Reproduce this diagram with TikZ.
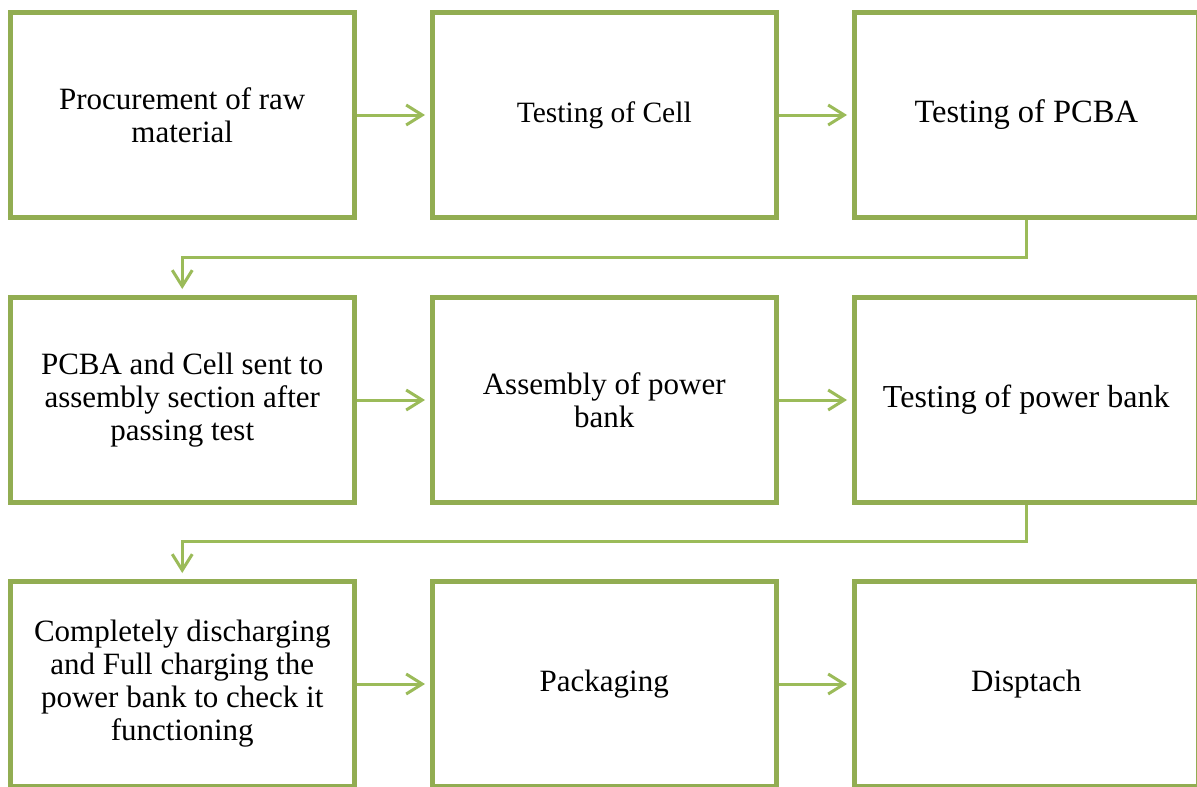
\documentclass[tikz,border=0pt]{standalone}
\usepackage{fontspec}
\setmainfont{Liberation Serif}
\usetikzlibrary{arrows.meta}
\definecolor{boxgreen}{RGB}{146,173,82}
\definecolor{arrgreen}{RGB}{155,187,89}
\tikzset{
  stepbox/.style={draw=boxgreen, line width=5pt, fill=white, minimum width=343.5pt, minimum height=205pt, inner sep=0pt, align=center, anchor=north west, font=\fontsize{31}{33}\selectfont},
  flow/.style={draw=arrgreen, line width=3pt, -{Straight Barb[length=16pt,width=20pt,line width=3pt]}},
}
\begin{document}
\begin{tikzpicture}[x=1pt,y=-1pt]
\useasboundingbox (0,0) rectangle (1197,787);
% row 1
\node[stepbox] (a) at (8,10) {Procurement of raw\\material};
\node[stepbox, font=\fontsize{29.5}{32}\selectfont] (b) at (430,10) {Testing of Cell};
\node[stepbox, font=\fontsize{32.5}{34}\selectfont] (c) at (852,10) {Testing of PCBA};
% row 2
\node[stepbox] (d) at (8,295) {PCBA and Cell sent to\\assembly section after\\passing test};
\node[stepbox] (e) at (430,295) {Assembly of power\\bank};
\node[stepbox, font=\fontsize{32}{34}\selectfont] (f) at (852,295) {Testing of power bank};
% row 3
\node[stepbox] (g) at (8,579) {Completely discharging\\and Full charging the\\power bank to check it\\functioning};
\node[stepbox] (h) at (430,579) {Packaging};
\node[stepbox] (i) at (852,579) {Disptach};
% horizontal arrows
\draw[flow, shorten >=5pt] (a.east) -- (b.west);
\draw[flow, shorten >=5pt] (b.east) -- (c.west);
\draw[flow, shorten >=5pt] (d.east) -- (e.west);
\draw[flow, shorten >=5pt] (e.east) -- (f.west);
\draw[flow, shorten >=5pt] (g.east) -- (h.west);
\draw[flow, shorten >=5pt] (h.east) -- (i.west);
% elbow connectors
\coordinate (k1) at (c.south |- 0,257);
\coordinate (k2) at (d.north |- 0,257);
\draw[flow, shorten >=6pt] (c.south) -- (k1) -- (k2) -- (d.north);
\coordinate (k3) at (f.south |- 0,541.5);
\coordinate (k4) at (g.north |- 0,541.5);
\draw[flow, shorten >=6pt] (f.south) -- (k3) -- (k4) -- (g.north);
\end{tikzpicture}
\end{document}
